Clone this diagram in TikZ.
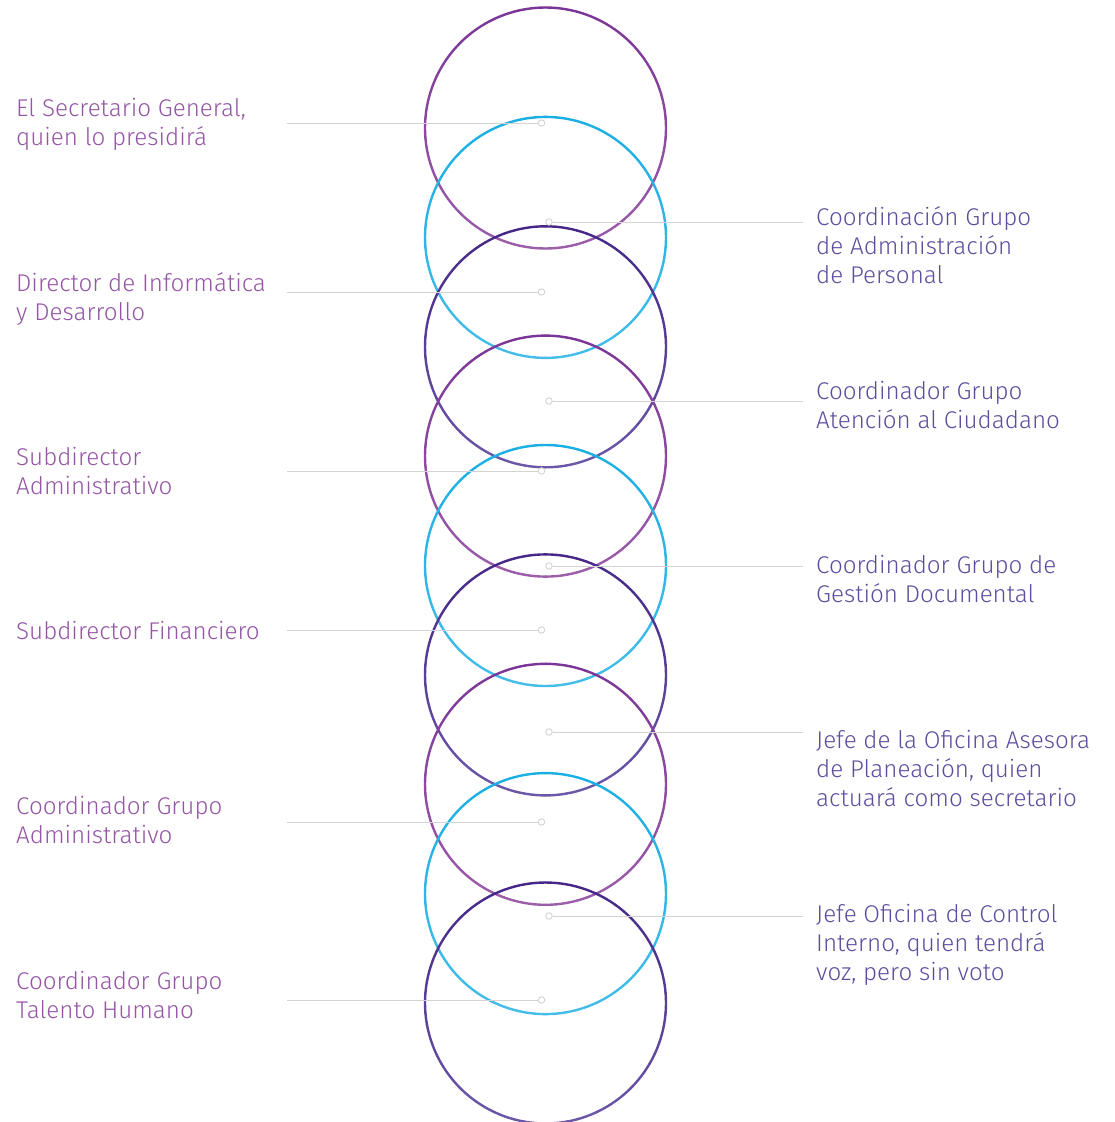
\documentclass[tikz,border=0pt]{standalone}
\usepackage{fontspec}
\setmainfont{Fira Sans Light}
\definecolor{ptop}{HTML}{7B3597}
\definecolor{pbot}{HTML}{9C5DAA}
\definecolor{ctop}{HTML}{1AAFE3}
\definecolor{cbot}{HTML}{45BDE8}
\definecolor{dtop}{HTML}{452787}
\definecolor{dbot}{HTML}{6C57A8}
\definecolor{ltext}{HTML}{9455A5}
\definecolor{rtext}{HTML}{5E4C9E}
\definecolor{conn}{HTML}{D3D3D3}
\tikzset{
  ring/.style={line width=2.4pt, line cap=round},
  connline/.style={draw=conn, line width=1pt},
  enddot/.style={circle, draw=conn, fill=white, line width=0.9pt, minimum size=6.5pt, inner sep=0pt},
  lefttxt/.style={anchor=north west, align=left, text=ltext, inner sep=0pt, font=\fontsize{24.2}{29}\selectfont},
  righttxt/.style={anchor=north west, align=left, text=rtext, inner sep=0pt, font=\fontsize{24.2}{29}\selectfont},
}
\newcommand{\gradring}[3]{%
  \foreach \a in {0,5,...,355}{%
    \pgfmathsetmacro{\pw}{50+50*sin(\a+2.5)}%
    \draw[ring, draw={#2!\pw!#3}] (545.5,-#1) ++(\a:120.5) arc[start angle=\a, delta angle=5, radius=120.5];
  }%
}
\begin{document}
\begin{tikzpicture}[x=1pt,y=1pt]
\useasboundingbox (0,0) rectangle (1115,-1122);
% rings
\gradring{128}{ptop}{pbot}
\gradring{237.4}{ctop}{cbot}
\gradring{346.8}{dtop}{dbot}
\gradring{456.1}{ptop}{pbot}
\gradring{565.5}{ctop}{cbot}
\gradring{674.9}{dtop}{dbot}
\gradring{784.3}{ptop}{pbot}
\gradring{893.6}{ctop}{cbot}
\gradring{1003}{dtop}{dbot}
% left connectors
\coordinate (l1s) at (287,-123);  \node[enddot] (l1d) at (541.5,-123) {};
\coordinate (l2s) at (287,-292);  \node[enddot] (l2d) at (541.5,-292) {};
\coordinate (l3s) at (287,-471);  \node[enddot] (l3d) at (541.5,-471) {};
\coordinate (l4s) at (287,-630);  \node[enddot] (l4d) at (541.5,-630) {};
\coordinate (l5s) at (287,-822);  \node[enddot] (l5d) at (541.5,-822) {};
\coordinate (l6s) at (287,-1000); \node[enddot] (l6d) at (541.5,-1000) {};
\draw[connline] (l1s) -- (l1d);
\draw[connline] (l2s) -- (l2d);
\draw[connline] (l3s) -- (l3d);
\draw[connline] (l4s) -- (l4d);
\draw[connline] (l5s) -- (l5d);
\draw[connline] (l6s) -- (l6d);
% right connectors
\coordinate (r1e) at (803,-222); \node[enddot] (r1d) at (549,-222) {};
\coordinate (r2e) at (803,-401); \node[enddot] (r2d) at (549,-401) {};
\coordinate (r3e) at (803,-566); \node[enddot] (r3d) at (549,-566) {};
\coordinate (r4e) at (803,-732); \node[enddot] (r4d) at (549,-732) {};
\coordinate (r5e) at (803,-916); \node[enddot] (r5d) at (549,-916) {};
\draw[connline] (r1d) -- (r1e);
\draw[connline] (r2d) -- (r2e);
\draw[connline] (r3d) -- (r3e);
\draw[connline] (r4d) -- (r4e);
\draw[connline] (r5d) -- (r5e);
% left labels
\node[lefttxt] (lt1) at (16,-95.7)  {\strut El Secretario General,\\quien lo presidirá};
\node[lefttxt] (lt2) at (16,-270.7) {\strut Director de Informática\\y Desarrollo};
\node[lefttxt] (lt3) at (16,-444.7) {\strut Subdirector\\Administrativo};
\node[lefttxt] (lt4) at (16,-618.7) {\strut Subdirector Financiero};
\node[lefttxt] (lt5) at (16,-793.7) {\strut Coordinador Grupo\\Administrativo};
\node[lefttxt] (lt6) at (16,-968.7) {\strut Coordinador Grupo\\Talento Humano};
% right labels
\node[righttxt] (rt1) at (816,-204.7) {\strut Coordinación Grupo\\de Administración\\de Personal};
\node[righttxt] (rt2) at (816,-378.7) {\strut Coordinador Grupo\\Atención al Ciudadano};
\node[righttxt] (rt3) at (816,-552.7) {\strut Coordinador Grupo de\\Gestión Documental};
\node[righttxt] (rt4) at (816,-727.7) {\strut Jefe de la Oficina Asesora\\de Planeación, quien\\actuará como secretario};
\node[righttxt] (rt5) at (816,-901.7) {\strut Jefe Oficina de Control\\Interno, quien tendrá\\voz, pero sin voto};
\end{tikzpicture}
\end{document}
